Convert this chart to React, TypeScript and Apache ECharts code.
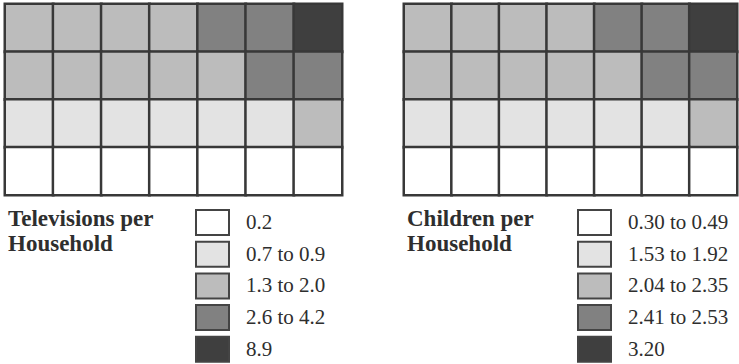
import React, { useEffect, useRef } from "react";
import * as echarts from "echarts";

// Column and row categories (7 x 4 grid, rows top to bottom)
const columns = ["1", "2", "3", "4", "5", "6", "7"];
const rows = ["A", "B", "C", "D"];

// Televisions per household, row by row (top to bottom)
const tvRow1 = [1.6, 1.5, 1.7, 1.4, 3.1, 2.8, 8.9];
const tvRow2 = [1.8, 1.9, 1.5, 1.4, 1.3, 4.2, 2.6];
const tvRow3 = [0.8, 0.7, 0.9, 0.8, 0.7, 0.9, 2.0];
const tvRow4 = [0.2, 0.2, 0.2, 0.2, 0.2, 0.2, 0.2];

// Children per household, row by row (top to bottom)
const chRow1 = [2.1, 2.2, 2.15, 2.3, 2.53, 2.45, 3.2];
const chRow2 = [2.35, 2.25, 2.04, 2.12, 2.08, 2.41, 2.5];
const chRow3 = [1.7, 1.8, 1.92, 1.65, 1.53, 1.75, 2.2];
const chRow4 = [0.3, 0.35, 0.4, 0.49, 0.45, 0.38, 0.42];

// Legend classes
const tvTitle = "Televisions per\nHousehold";
const tvLabels = ["0.2", "0.7 to 0.9", "1.3 to 2.0", "2.6 to 4.2", "8.9"];
const tvRanges: [number, number][] = [[0.2, 0.2], [0.7, 0.9], [1.3, 2.0], [2.6, 4.2], [8.9, 8.9]];

const chTitle = "Children per\nHousehold";
const chLabels = ["0.30 to 0.49", "1.53 to 1.92", "2.04 to 2.35", "2.41 to 2.53", "3.20"];
const chRanges: [number, number][] = [[0.3, 0.49], [1.53, 1.92], [2.04, 2.35], [2.41, 2.53], [3.2, 3.2]];

const shades = ["#ffffff", "#e3e3e3", "#bcbcbc", "#818181", "#3f3f3f"];

const SERIF = "Liberation Serif";
const INK = "#2e2e2e";

function toCells(rowsData: number[][]) {
  const out: [number, number, number][] = [];
  rowsData.forEach((r, ri) => r.forEach((v, ci) => out.push([ci, ri, v])));
  return out;
}

function legend(x0: number, titleX: number, title: string, labels: string[]) {
  const els: any[] = [
    {
      type: "text",
      x: titleX,
      y: 206,
      style: {
        text: title,
        fontFamily: SERIF,
        fontSize: 23,
        fontWeight: "bold",
        fill: INK,
        lineHeight: 25,
        verticalAlign: "top",
      },
    },
  ];
  labels.forEach((lab, i) => {
    const y = 210 + i * 31.7;
    els.push({
      type: "rect",
      shape: { x: x0, y, width: 33, height: 25 },
      style: { fill: shades[i], stroke: "#444", lineWidth: 2 },
    });
    els.push({
      type: "text",
      x: x0 + 50,
      y: y + 12,
      style: {
        text: lab,
        fontFamily: SERIF,
        fontSize: 21,
        fill: INK,
        verticalAlign: "middle",
        textAlign: "left",
      },
    });
  });
  return els;
}

export default function App() {
  const ref = useRef<HTMLDivElement>(null);
  useEffect(() => {
    if (!ref.current) return;
    const chart = echarts.init(ref.current, null, { renderer: "svg" });
    const grids = [
      { left: 5, top: 4, width: 337, height: 191 },
      { left: 404, top: 4, width: 333, height: 191 },
    ];
    const axisX = (gi: number) => ({
      type: "category",
      data: columns,
      gridIndex: gi,
      show: false,
    });
    const axisY = (gi: number) => ({
      type: "category",
      data: rows,
      gridIndex: gi,
      inverse: true,
      show: false,
    });
    const cellStyle = { borderColor: "#383838", borderWidth: 2.5 };
    chart.setOption({
      animation: false,
      backgroundColor: "#ffffff",
      grid: grids,
      xAxis: [axisX(0), axisX(1)],
      yAxis: [axisY(0), axisY(1)],
      visualMap: [
        {
          type: "piecewise",
          show: false,
          seriesIndex: 0,
          dimension: 2,
          pieces: tvRanges.map((r, i) => ({ gte: r[0] - 0.01, lte: r[1] + 0.01, color: shades[i] })),
        },
        {
          type: "piecewise",
          show: false,
          seriesIndex: 1,
          dimension: 2,
          pieces: chRanges.map((r, i) => ({ gte: r[0] - 0.001, lte: r[1] + 0.001, color: shades[i] })),
        },
      ],
      series: [
        {
          type: "heatmap",
          xAxisIndex: 0,
          yAxisIndex: 0,
          data: toCells([tvRow1, tvRow2, tvRow3, tvRow4]),
          itemStyle: cellStyle,
          emphasis: { disabled: true },
        },
        {
          type: "heatmap",
          xAxisIndex: 1,
          yAxisIndex: 1,
          data: toCells([chRow1, chRow2, chRow3, chRow4]),
          itemStyle: cellStyle,
          emphasis: { disabled: true },
        },
      ],
      graphic: [...legend(196, 8, tvTitle, tvLabels), ...legend(578, 407, chTitle, chLabels)],
    });
    return () => chart.dispose();
  }, []);
  return (
    <div
      ref={ref}
      style={{ position: "absolute", left: 0, top: 0, width: 739, height: 364, background: "#fff" }}
    />
  );
}
